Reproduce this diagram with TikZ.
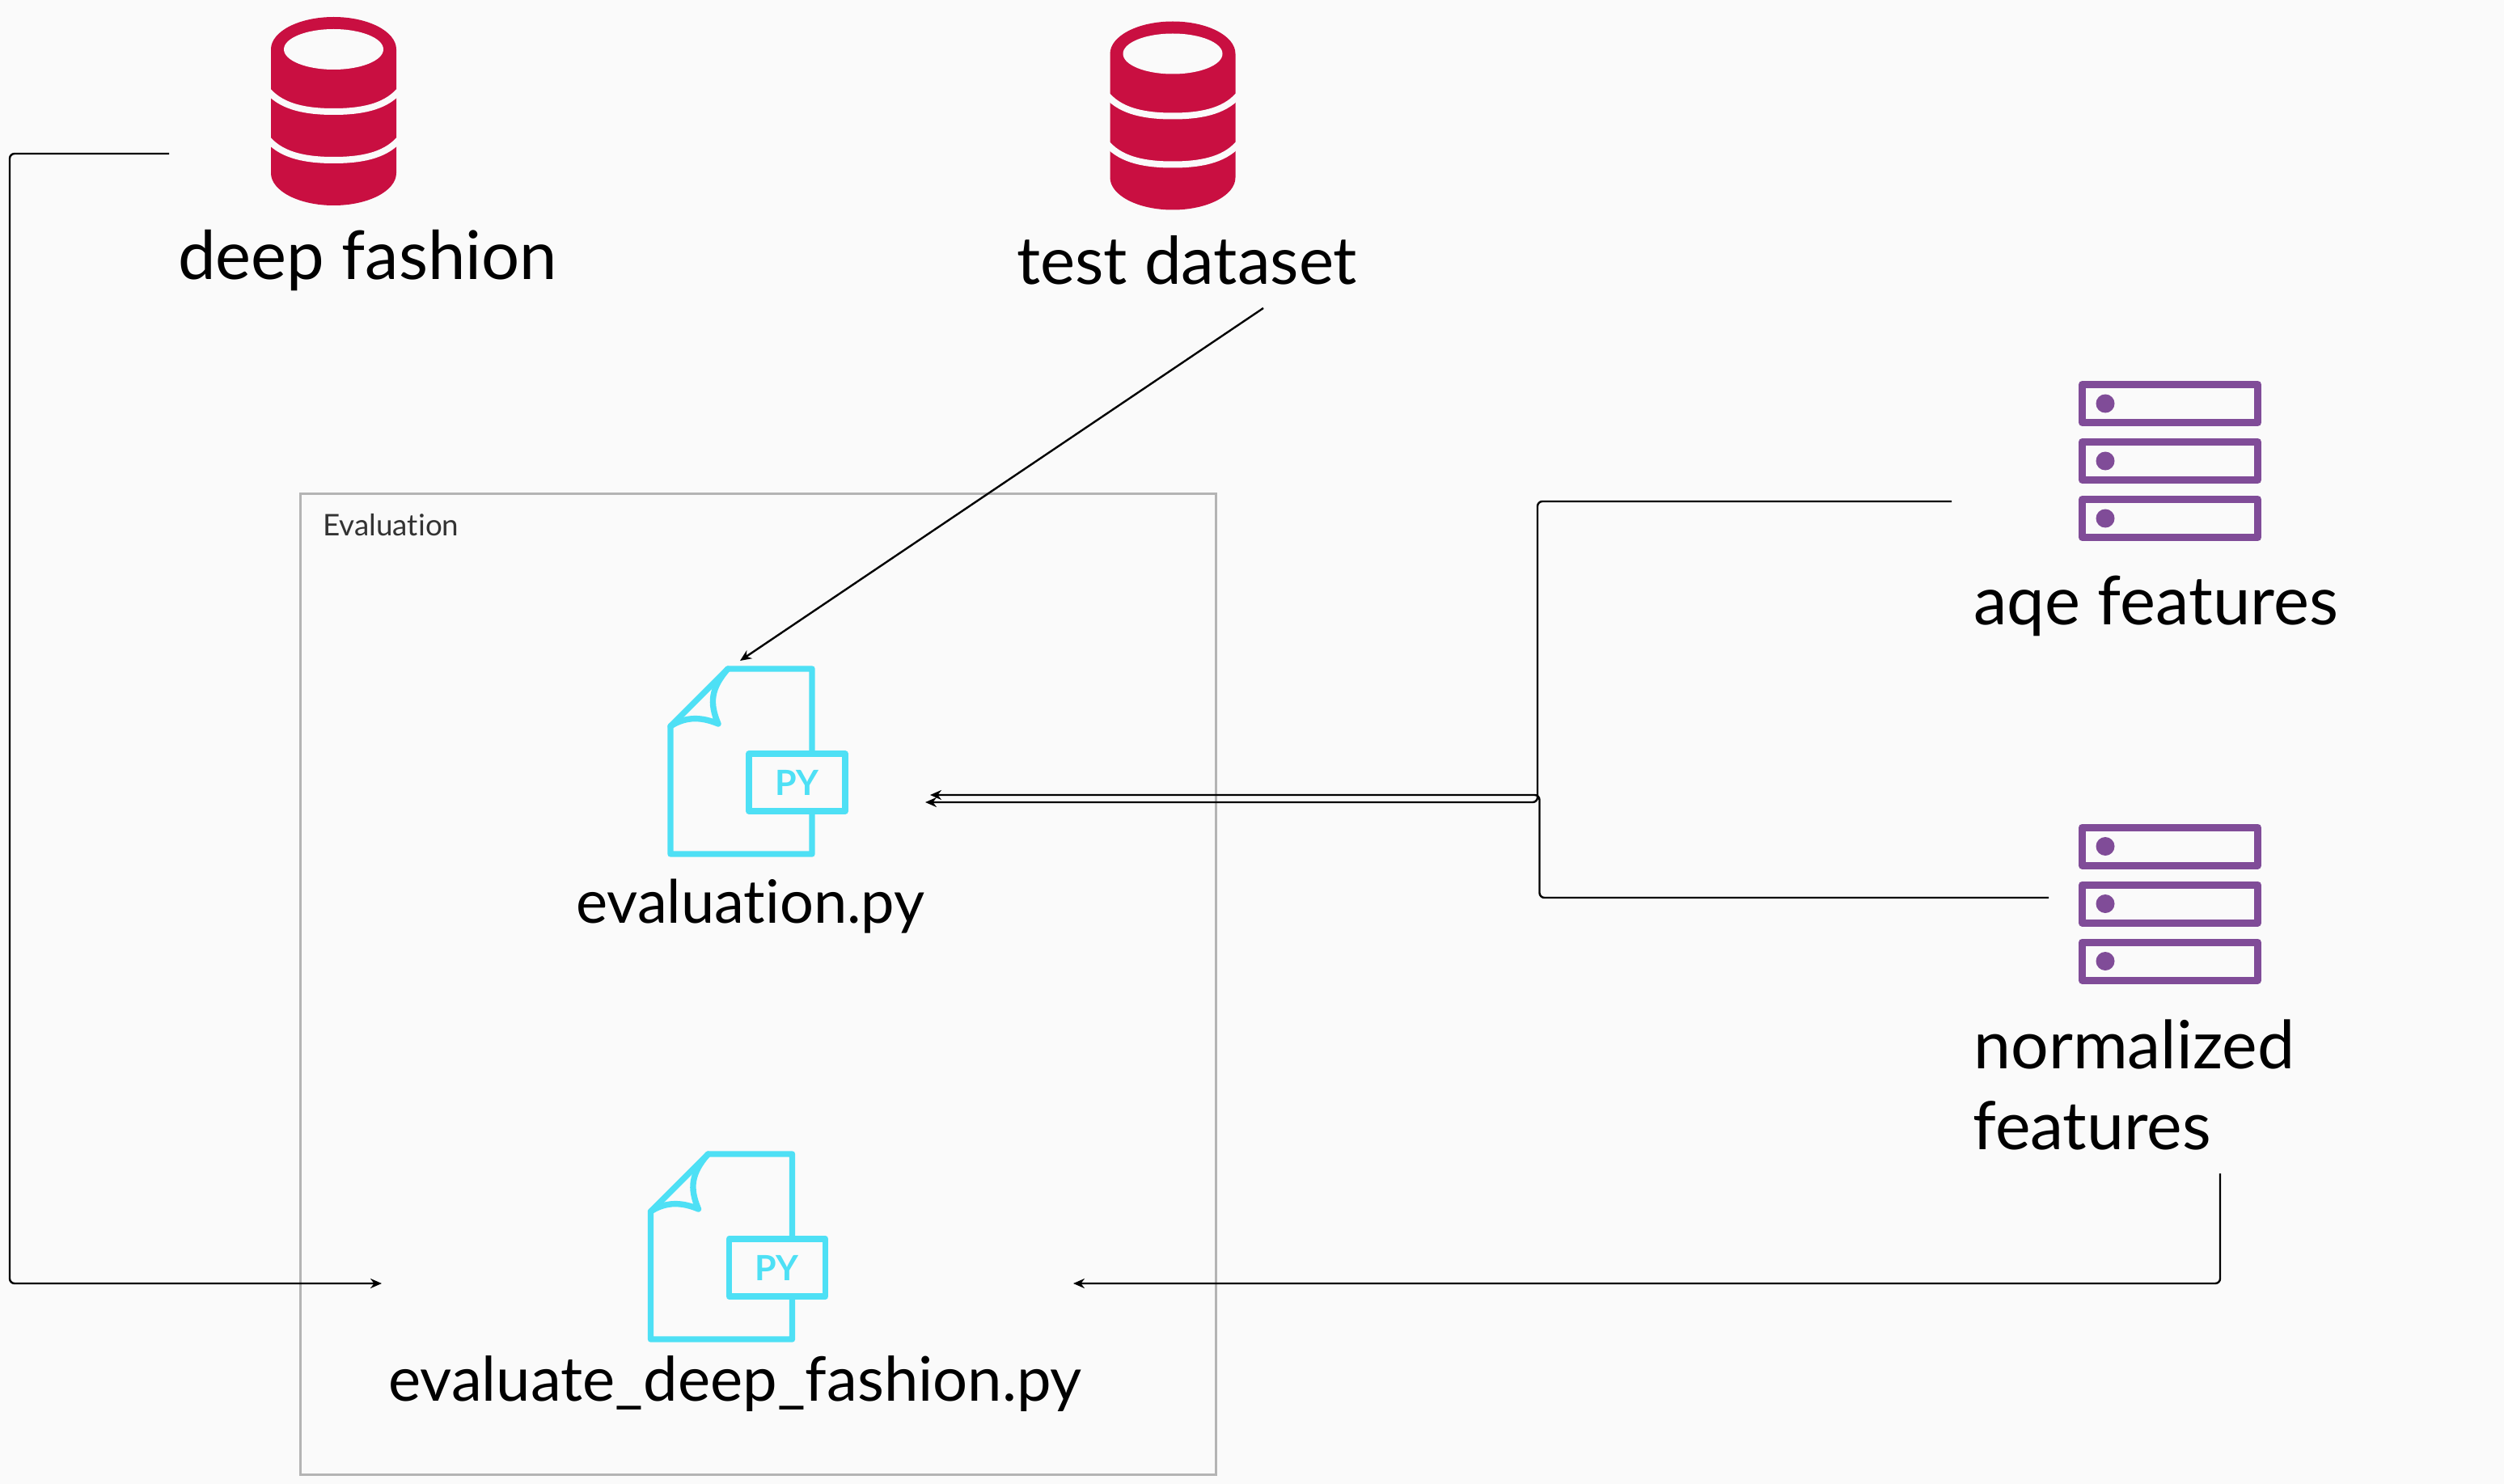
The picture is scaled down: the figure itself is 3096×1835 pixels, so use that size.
\documentclass[tikz,border=0pt]{standalone}
\usepackage{fontspec}
\setmainfont[Ligatures=NoCommon]{Lato}
\usetikzlibrary{arrows.meta}
\definecolor{bgc}{HTML}{FAFAFA}
\definecolor{dbred}{HTML}{C90F41}
\definecolor{pycyan}{HTML}{4EE0F5}
\definecolor{srvpurple}{HTML}{804C98}
\definecolor{boxgray}{HTML}{B4B4B4}
\tikzset{
  x=0.5pt,y=-0.5pt,
  lbl/.style={anchor=base west,inner sep=0pt,font=\fontsize{#1}{48}\selectfont,text=black},
  conn/.style={draw=black,line width=1.2pt,rounded corners=3pt},
  arr/.style={conn,-{Stealth[length=7pt,width=6pt]}},
  pics/db/.style={code={
    \fill[dbred] (0,40) arc[start angle=180,end angle=360,x radius=77.5,y radius=40] -- (155,193)
       arc[start angle=0,end angle=180,x radius=77.5,y radius=40] -- cycle;
    \fill[bgc] (77.5,40) ellipse[x radius=61.5,y radius=25];
    \draw[bgc,line width=4pt] (-3,92) .. controls (15,112) and (45,117) .. (77.5,117) .. controls (110,117) and (140,112) .. (158,92);
    \draw[bgc,line width=4pt] (-3,152) .. controls (15,172) and (45,177) .. (77.5,177) .. controls (110,177) and (140,172) .. (158,152);
  }},
  pics/pyfile/.style={code={
    \begin{scope}[draw=pycyan,line width=3.7pt,line join=round,line cap=round]
    \draw (71,0) -- (175,0) -- (175,229) -- (0,229) -- (0,71) -- cycle;
    \draw (71,0) .. controls (50,24) and (48,42) .. (59,68) .. controls (40,60) and (20,58) .. (0,71);
    \draw[fill=bgc] (97,105) rectangle (216,176);
    \end{scope}
    \node[inner sep=0pt,text=pycyan,font=\fontsize{21.5}{24}\selectfont\bfseries] at (156,141) {PY};
  }},
  pics/srv/.style={code={
    \foreach \r in {0,71,142}{
      \draw[srvpurple,line width=4.5pt,line join=round] (0,\r) rectangle (217,\r+47);
      \fill[srvpurple] (28.5,\r+23.5) circle[radius=11.5];
    }
  }},
}
\begin{document}
\begin{tikzpicture}
\useasboundingbox (0,0) rectangle (3096,1835);
\fill[bgc] (0,0) rectangle (3096,1835);

\node[draw=boxgray,line width=1.5pt,minimum width=566pt,minimum height=606.5pt,inner sep=0pt,anchor=north west] (evalbox) at (369.5,609) {};
\node[anchor=base west,inner sep=0pt,font=\fontsize{18.4}{22}\selectfont,text=black!80] (evallabel) at (399,662) {Evaluation};

\pic at (335,21) {db};
\pic at (1372.5,26.5) {db};
\pic at (829,827) {pyfile};
\pic at (804.5,1427) {pyfile};
\pic at (2574.5,475.5) {srv};
\pic at (2574.5,1023) {srv};

\node[lbl=41.6] (deepfashion) at (220,346) {deep fashion};
\node[lbl=40.8] (testdataset) at (1257,351) {test dataset};
\node[lbl=41.6] (aqefeatures) at (2440,772) {aqe features};
\node[lbl=41.2] (normfeatures) at (2440,1321) {normalized};
\node[lbl=41.2] (normfeatures2) at (2439,1421) {features};
\node[lbl=37] (evaluationpy) at (712,1141) {evaluation.py};
\node[lbl=38] (evaldeep) at (480,1732) {evaluate\_deep\_fashion.py};

\coordinate (dfout) at (209,190);
\coordinate (dfin) at (472,1587);
\coordinate (tdout) at (1562,381);
\coordinate (evin) at (915,817);
\coordinate (aqeout) at (2413,620);
\coordinate (evin1) at (1150,983);
\coordinate (normout) at (2533,1110);
\coordinate (evin2) at (1144,992);
\coordinate (normout2) at (2745,1451);
\coordinate (dfin2) at (1327,1587);

\draw[arr] (dfout) -- (12,190) -- (12,1587) -- (dfin);
\draw[arr] (tdout) -- (evin);
\draw[arr] (aqeout) -- (1901,620) -- (1901,992) -- (evin2);
\draw[arr] (normout) -- (1903.5,1110) -- (1903.5,983) -- (evin1);
\draw[arr] (normout2) -- (2745,1587) -- (dfin2);
\end{tikzpicture}
\end{document}
